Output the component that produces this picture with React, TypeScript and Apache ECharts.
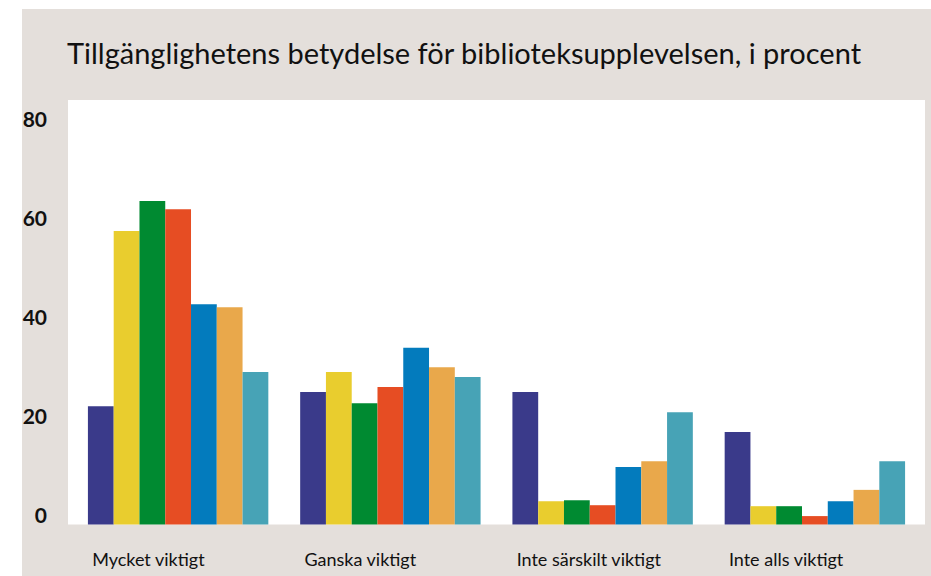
import React, { useEffect, useRef } from "react";
import * as echarts from "echarts";

const titleText = "Tillgänglighetens betydelse för biblioteksupplevelsen, i procent";
const categories = ["Mycket viktigt", "Ganska viktigt", "Inte särskilt viktigt", "Inte alls viktigt"];
const seriesNames = ["Serie 1", "Serie 2", "Serie 3", "Serie 4", "Serie 5", "Serie 6", "Serie 7"];
const serie1 = [23.9, 26.8, 26.8, 18.7];
const serie2 = [59.3, 30.8, 4.7, 3.7];
const serie3 = [65.4, 24.5, 4.9, 3.7];
const serie4 = [63.7, 27.8, 3.9, 1.7];
const serie5 = [44.5, 35.7, 11.6, 4.7];
const serie6 = [43.9, 31.8, 12.8, 7.0];
const serie7 = [30.8, 29.8, 22.7, 12.8];
const yTicks = [0, 20, 40, 60, 80];
const colors = ["#3a3a8a", "#e9cd2e", "#008a31", "#e64d23", "#037bbd", "#e9a84b", "#47a3b6"];

export default function App() {
  const ref = useRef<HTMLDivElement>(null);
  useEffect(() => {
    if (!ref.current) return;
    const chart = echarts.init(ref.current, undefined, { renderer: "svg" });
    const allSeries = [serie1, serie2, serie3, serie4, serie5, serie6, serie7];
    chart.setOption({
      animation: false,
      backgroundColor: "#ffffff",
      title: {
        text: titleText,
        left: 62,
        top: 33,
        textStyle: {
          fontFamily: "Lato, 'Open Sans', sans-serif",
          fontSize: 29,
          fontWeight: "normal",
          color: "#111111",
        },
      },
      graphic: [
        {
          type: "rect",
          z: -10,
          silent: true,
          shape: { x: 22, y: 9, width: 909, height: 567 },
          style: { fill: "#e4dfdb" },
        },
        {
          type: "rect",
          z: -9,
          silent: true,
          shape: { x: 68, y: 100, width: 857, height: 424.5 },
          style: { fill: "#ffffff" },
        },
      ],
      grid: { left: 72, right: 10, top: 100, bottom: 51.5, containLabel: false },
      xAxis: {
        type: "category",
        data: categories,
        axisLine: { show: false },
        axisTick: { show: false },
        axisLabel: {
          interval: 0,
          align: "left",
          verticalAlign: "top",
          margin: 25,
          padding: [0, 0, 0, -86],
          fontFamily: "Lato, sans-serif",
          fontSize: 18,
          color: "#111111",
        },
      },
      yAxis: {
        type: "value",
        min: 0,
        max: 85.8,
        interval: 20,
        splitLine: { show: false },
        axisLine: { show: false },
        axisTick: { show: false },
        axisLabel: {
          showMaxLabel: false,
          margin: 25,
          verticalAlign: "bottom",
          fontFamily: "Lato, sans-serif",
          fontSize: 21,
          fontWeight: "bold",
          color: "#111111",
          formatter: (v: number) => (yTicks.includes(v) ? String(v) : ""),
        },
      },
      series: allSeries.map((d, i) => ({
        name: seriesNames[i],
        type: "bar",
        data: d,
        barGap: "0%",
        barCategoryGap: "15%",
        itemStyle: { color: colors[i] },
      })),
    });
    return () => chart.dispose();
  }, []);
  return (
    <div
      ref={ref}
      style={{ position: "fixed", left: 0, top: 0, width: 931, height: 576 }}
    />
  );
}
